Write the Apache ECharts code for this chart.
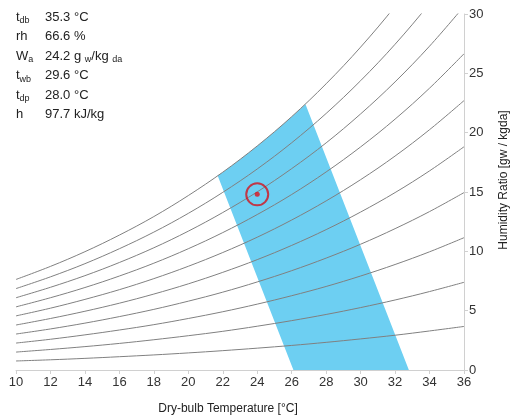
<!DOCTYPE html>
<html>
<head>
<meta charset="utf-8">
<script src="https://cdn.jsdelivr.net/npm/echarts@6/dist/echarts.min.js"></script>
<style>
  html, body { margin: 0; padding: 0; background: #fff; }
  #chart { width: 511px; height: 415px; }
</style>
</head>
<body>
<div id="chart"></div>
<script>
// dry-bulb temperatures where the RH curves are read
const temps = [10, 12, 14, 16, 18, 20, 22, 24, 26, 28, 30, 32, 34, 36];

// humidity ratio (g/kg) along each relative humidity curve
const rh10  = [0.76, 0.86, 0.98, 1.12, 1.27, 1.44, 1.63, 1.84, 2.07, 2.33, 2.62, 2.93, 3.29, 3.67];
const rh20  = [1.51, 1.73, 1.97, 2.24, 2.55, 2.89, 3.26, 3.69, 4.16, 4.68, 5.26, 5.90, 6.61, 7.39];
const rh30  = [2.27, 2.59, 2.96, 3.37, 3.82, 4.34, 4.91, 5.55, 6.26, 7.04, 7.92, 8.89, 9.96, 11.15];
const rh40  = [3.03, 3.46, 3.95, 4.50, 5.11, 5.80, 6.56, 7.42, 8.37, 9.43, 10.60, 11.91, 13.35, 14.95];
const rh50  = [3.79, 4.34, 4.95, 5.63, 6.40, 7.26, 8.23, 9.30, 10.50, 11.83, 13.31, 14.95, 16.78, 18.81];
const rh60  = [4.56, 5.21, 5.95, 6.77, 7.70, 8.74, 9.90, 11.19, 12.64, 14.25, 16.04, 18.03, 20.25, 22.70];
const rh70  = [5.32, 6.09, 6.95, 7.92, 9.00, 10.22, 11.58, 13.10, 14.79, 16.69, 18.80, 21.14, 23.75, 26.65];
const rh80  = [6.09, 6.97, 7.95, 9.06, 10.30, 11.70, 13.27, 15.01, 16.97, 19.14, 21.58, 24.28, 27.29, 30.64];
const rh90  = [6.86, 7.85, 8.96, 10.22, 11.62, 13.20, 14.97, 16.94, 19.15, 21.62, 24.38, 27.45, 30.88, 34.69];
const rh100 = [7.63, 8.73, 9.97, 11.37, 12.93, 14.70, 16.67, 18.88, 21.35, 24.12, 27.21, 30.65, 34.49, 38.78];
const curves = [rh10, rh20, rh30, rh40, rh50, rh60, rh70, rh80, rh90, rh100];

// comfort zone outline (temperature, humidity ratio)
const zoneX = [21.7, 22, 23, 24, 25, 26, 26.8, 32.8, 26.1];
const zoneY = [16.4, 16.67, 17.74, 18.88, 20.08, 21.35, 22.4, 0, 0];

// current state point
const statePoint = [24, 14.8];

// readout panel
const readLabels = ['{m|t}{s|db}', '{m|rh}', '{m|W}{s|a}', '{m|t}{s|wb}', '{m|t}{s|dp}', '{m|h}'];
const readValues = ['35.3', '66.6', '24.2', '29.6', '28.0', '97.7'];
const readUnits = ['{m|°C}', '{m|%}', '{m|g }{s|w}{m|/kg }{s|da}', '{m|°C}', '{m|°C}', '{m|kJ/kg}'];

const FONT = 'Liberation Sans, Arial, sans-serif';
const richStyle = {
    m: { fontSize: 13, fontFamily: FONT, fill: '#222', lineHeight: 16 },
    s: { fontSize: 9, fontFamily: FONT, fill: '#222', verticalAlign: 'bottom', lineHeight: 15 }
};

const chart = echarts.init(document.getElementById('chart'));

const panel = [];
readLabels.forEach((lab, i) => {
    const y = 19 + i * 19.4;
    panel.push({
        type: 'text', left: 16, top: y - 8, z: 10,
        style: { text: lab, rich: richStyle, fill: '#222' }
    });
    panel.push({
        type: 'text', left: 45, top: y - 8, z: 10,
        style: { text: readValues[i], font: '13px ' + FONT, fill: '#222' }
    });
    panel.push({
        type: 'text', left: 74, top: y - 8, z: 10,
        style: { text: readUnits[i], rich: richStyle, fill: '#222' }
    });
});

const lineSeries = curves.map((vals, k) => ({
    name: 'rh' + (k + 1) * 10,
    type: 'line',
    data: temps.map((t, i) => [t, vals[i]]),
    showSymbol: false,
    smooth: 0.35,
    silent: true,
    clip: true,
    z: 3,
    lineStyle: { color: '#808080', width: 1 }
}));

const option = {
    animation: false,
    textStyle: { fontFamily: FONT },
    grid: { left: 16, right: 47, top: 14, bottom: 45, containLabel: false, outerBoundsMode: 'none' },
    graphic: panel,
    xAxis: {
        type: 'value',
        min: 10,
        max: 36,
        interval: 2,
        name: 'Dry-bulb Temperature [°C]',
        nameLocation: 'middle',
        nameGap: 33,
        nameTextStyle: { fontSize: 12, color: '#222', padding: [0, 24, 0, 0] },
        axisLine: { show: true, lineStyle: { color: '#d0d0d0' } },
        axisTick: { show: true, length: 4, lineStyle: { color: '#d0d0d0' } },
        axisLabel: { fontSize: 13, color: '#333', margin: 6 },
        splitLine: { show: false }
    },
    yAxis: {
        type: 'value',
        position: 'right',
        min: 0,
        max: 30,
        interval: 5,
        name: 'Humidity Ratio [gw / kgda]',
        nameLocation: 'middle',
        nameRotate: 90,
        nameGap: 34,
        nameTextStyle: { fontSize: 12, color: '#222', padding: [0, 0, 0, 24] },
        axisLine: { show: true, lineStyle: { color: '#d0d0d0' } },
        axisTick: { show: true, length: 4, lineStyle: { color: '#d0d0d0' } },
        axisLabel: { fontSize: 13, color: '#333', margin: 5 },
        splitLine: { show: false }
    },
    series: [
        {
            name: 'zone',
            type: 'custom',
            z: 1,
            silent: true,
            clip: true,
            data: [statePoint],
            renderItem: (params, api) => ({
                type: 'polygon',
                shape: { points: zoneX.map((x, i) => api.coord([x, zoneY[i]])) },
                style: { fill: '#6dcff2' }
            })
        },
        ...lineSeries,
        {
            name: 'ring',
            type: 'scatter',
            z: 5,
            silent: true,
            data: [statePoint],
            symbol: 'circle',
            symbolSize: 22,
            itemStyle: { color: 'rgba(0,0,0,0)', borderColor: '#d4121c', borderWidth: 2 }
        },
        {
            name: 'dot',
            type: 'scatter',
            z: 6,
            silent: true,
            data: [statePoint],
            symbol: 'circle',
            symbolSize: 5,
            itemStyle: { color: '#e0101a' }
        }
    ]
};

chart.setOption(option);

window.addEventListener('resize', () => chart.resize());
</script>
</body>
</html>
